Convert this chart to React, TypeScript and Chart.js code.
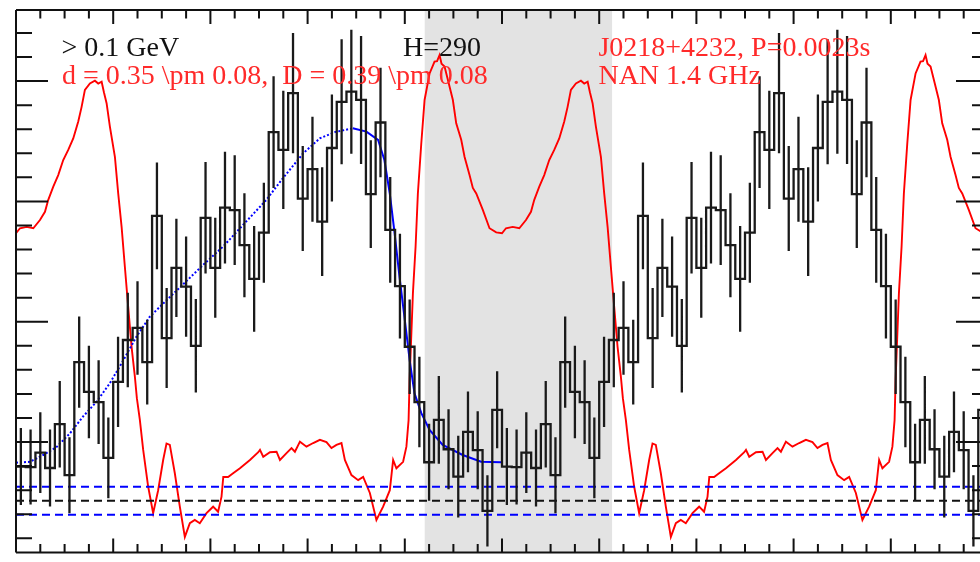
import React, { useEffect, useRef } from 'react';
import { Chart, registerables } from 'chart.js';

Chart.register(...registerables);

// ---------- data ----------
const BIN_WIDTH = 0.02; // phase width of one gamma-ray bin
const CYCLES = 2;

// gamma-ray counts per bin (one rotation, 50 bins) and their 1-sigma errors
const COUNTS = [
  19.9, 19.8, 22.8, 19.6, 28.7, 18.1, 41.6, 35.4, 33.3, 21.7,
  37.5, 46.2, 48.7, 41.6, 72.0, 46.6, 61.2, 57.3, 45.0, 71.6,
  61.2, 73.7, 73.2, 65.9, 58.9, 68.5, 89.4, 85.7, 97.5, 75.6,
  81.7, 70.8, 86.1, 95.7, 97.8, 96.1, 76.5, 91.4, 69.1, 57.4,
  44.8, 33.3, 20.8, 29.6, 23.5, 17.8, 27.1, 23.3, 10.7, 31.7,
];
const ERRORS = [
  8.0, 7.8, 8.4, 8.0, 9.0, 7.9, 9.5, 9.6, 8.7, 8.4,
  9.4, 9.8, 9.7, 8.8, 11.1, 10.4, 10.2, 10.4, 9.7, 11.6,
  10.4, 11.6, 11.4, 10.8, 11.0, 10.4, 11.6, 12.3, 12.5, 10.9,
  10.9, 11.3, 11.1, 13.0, 12.9, 13.3, 11.2, 11.4, 11.0, 10.9,
  9.8, 9.4, 8.0, 9.1, 8.3, 8.5, 8.4, 8.1, 7.4, 8.0,
];

// fitted pulse profile (blue)
const FIT_PHASE = [
  0.0, 0.029, 0.056, 0.084, 0.111, 0.138, 0.166, 0.193, 0.221, 0.248,
  0.275, 0.303, 0.337, 0.385, 0.426, 0.467, 0.515, 0.549, 0.591, 0.625,
  0.656, 0.693, 0.721, 0.745, 0.758, 0.769, 0.779, 0.789, 0.800, 0.810,
  0.820, 0.834, 0.851, 0.878, 0.919, 0.957, 0.998,
];
const FIT_VALUE = [
  20.7, 20.9, 22.3, 24.0, 26.8, 30.3, 33.4, 37.2, 42.0, 46.9,
  51.0, 53.8, 57.1, 61.8, 65.6, 70.1, 75.3, 79.8, 85.0, 88.1,
  89.4, 90.2, 89.5, 87.8, 83.6, 76.7, 68.4, 59.4, 50.4, 42.0,
  35.1, 31.0, 27.5, 24.4, 22.3, 20.9, 20.8,
];
const FIT_DOTTED_BELOW = 0.66;

// radio profile at 1.4 GHz (red), normalised flux, one rotation
const RADIO_PHASE = [
  0.0, 0.0082, 0.022, 0.0356, 0.0493, 0.0596, 0.0664, 0.0767, 0.0869, 0.0972,
  0.1075, 0.1178, 0.1281, 0.135, 0.1418, 0.1521, 0.1624, 0.1692, 0.1762, 0.1809,
  0.1864, 0.1932, 0.2035, 0.2103, 0.2173, 0.224, 0.2308, 0.2378, 0.2446, 0.2487,
  0.2549, 0.2617, 0.2719, 0.2822, 0.2925, 0.3028, 0.3097, 0.3165, 0.3268, 0.3371,
  0.3474, 0.3577, 0.3679, 0.3782, 0.392, 0.4056, 0.4158, 0.4229, 0.4265, 0.4364,
  0.4467, 0.4608, 0.4814, 0.4985, 0.502, 0.5087, 0.5225, 0.5361, 0.5431, 0.5566,
  0.5669, 0.5739, 0.5842, 0.5977, 0.6115, 0.6253, 0.6388, 0.6491, 0.6594, 0.6697,
  0.6767, 0.6902, 0.704, 0.7143, 0.7281, 0.7416, 0.7554, 0.7692, 0.776, 0.7827,
  0.7965, 0.8033, 0.8078, 0.8099, 0.813, 0.8167, 0.8222, 0.8269, 0.8339, 0.8407,
  0.851, 0.8612, 0.8664, 0.8715, 0.8756, 0.8818, 0.8886, 0.8989, 0.9058, 0.9161,
  0.9229, 0.9332, 0.94, 0.947, 0.9605, 0.9743, 0.9881,
];
const RADIO_FLUX = [
  0.661, 0.672, 0.675, 0.672, 0.69, 0.708, 0.734, 0.763, 0.788, 0.821,
  0.843, 0.868, 0.905, 0.937, 0.974, 0.988, 0.994, 0.988, 0.992, 0.969,
  0.945, 0.894, 0.828, 0.748, 0.675, 0.588, 0.501, 0.413, 0.348, 0.301,
  0.253, 0.188, 0.108, 0.05, 0.1, 0.166, 0.202, 0.199, 0.137, 0.064,
  -0.002, 0.028, 0.035, 0.028, 0.05, 0.064, 0.053, 0.086, 0.129, 0.129,
  0.137, 0.148, 0.166, 0.183, 0.188, 0.173, 0.183, 0.184, 0.166, 0.181,
  0.192, 0.184, 0.206, 0.195, 0.203, 0.21, 0.205, 0.192, 0.199, 0.203,
  0.166, 0.133, 0.122, 0.129, 0.094, 0.035, 0.064, 0.1, 0.166, 0.148,
  0.162, 0.195, 0.253, 0.341, 0.428, 0.53, 0.632, 0.748, 0.857, 0.952,
  1.01, 1.036, 1.037, 1.05, 1.031, 1.025, 0.996, 0.952, 0.901, 0.865,
  0.828, 0.788, 0.76, 0.748, 0.712, 0.672, 0.663,
];

const BACKGROUND = 12.8;
const BACKGROUND_SIGMA = 2.9;
const OFF_PULSE = [0.841, 1.2265];

const X_RANGE = [0, 2];
const Y_RANGE = [2.04, 114.78];
const Y2_RANGE = [-0.036, 1.1485];
const X_MINOR = 0.05;
const X_MAJOR_EVERY = 4;
const Y_MINOR = 5;
const Y_MAJOR = 25;

const LABELS = [
  { text: '> 0.1 GeV', x: 0.0935, y: 105.2, color: '#111111' },
  { text: 'd = 0.35 \\pm 0.08,  D = 0.39 \\pm 0.08', x: 0.0945, y: 99.5, color: '#ff2a2a' },
  { text: 'H=290', x: 0.7965, y: 105.2, color: '#111111' },
  { text: 'J0218+4232, P=0.0023s', x: 1.1984, y: 105.2, color: '#ff2a2a' },
  { text: 'NAN 1.4 GHz', x: 1.1984, y: 99.5, color: '#ff2a2a' },
];

// ---------- derived tables ----------
function buildHistogram() {
  const pts: { x: number; y: number }[] = [];
  const n = COUNTS.length;
  for (let c = 0; c < CYCLES; c++) {
    for (let i = 0; i < n; i++) pts.push({ x: (c * n + i) * BIN_WIDTH, y: COUNTS[i] });
  }
  pts.push({ x: CYCLES * n * BIN_WIDTH, y: COUNTS[n - 1] });
  return pts;
}

function buildErrorBars() {
  const pts: { x: number; y: number | null }[] = [];
  const n = COUNTS.length;
  for (let c = 0; c < CYCLES; c++) {
    for (let i = 0; i < n; i++) {
      const cx = (c * n + i + 0.5) * BIN_WIDTH;
      pts.push({ x: cx, y: COUNTS[i] - ERRORS[i] });
      pts.push({ x: cx, y: COUNTS[i] + ERRORS[i] });
      pts.push({ x: cx, y: null });
    }
  }
  return pts;
}

function buildRadio() {
  const pts: { x: number; y: number }[] = [];
  for (let c = 0; c < CYCLES; c++) {
    RADIO_PHASE.forEach((p, i) => pts.push({ x: p + c, y: RADIO_FLUX[i] }));
  }
  pts.push({ x: CYCLES, y: RADIO_FLUX[0] });
  return pts;
}

const hline = (v: number) => [
  { x: X_RANGE[0], y: v },
  { x: X_RANGE[1], y: v },
];

// ---------- plugins ----------
const shadePlugin = {
  id: 'offPulseShade',
  beforeDatasetsDraw(chart: any) {
    const { ctx, chartArea, scales } = chart;
    const x0 = scales.x.getPixelForValue(OFF_PULSE[0]);
    const x1 = scales.x.getPixelForValue(OFF_PULSE[1]);
    ctx.save();
    ctx.fillStyle = '#e3e3e3';
    ctx.fillRect(x0, chartArea.top, x1 - x0, chartArea.bottom - chartArea.top);
    ctx.restore();
  },
};

const framePlugin = {
  id: 'frameTicks',
  afterDatasetsDraw(chart: any) {
    const { ctx, chartArea, scales } = chart;
    const { left, right, top, bottom } = chartArea;
    ctx.save();
    ctx.strokeStyle = '#111111';
    ctx.lineWidth = 2;
    ctx.beginPath();
    ctx.moveTo(left, top);
    ctx.lineTo(right, top);
    ctx.moveTo(left, bottom);
    ctx.lineTo(right, bottom);
    ctx.moveTo(left, top);
    ctx.lineTo(left, bottom);
    ctx.moveTo(right, top);
    ctx.lineTo(right, bottom);
    const nx = Math.round((X_RANGE[1] - X_RANGE[0]) / X_MINOR);
    for (let k = 0; k <= nx; k++) {
      const px = scales.x.getPixelForValue(X_RANGE[0] + k * X_MINOR);
      const len = k % X_MAJOR_EVERY === 0 ? 14 : 8.5;
      ctx.moveTo(px, top);
      ctx.lineTo(px, top + len);
      ctx.moveTo(px, bottom);
      ctx.lineTo(px, bottom - len);
    }
    const y = scales.y;
    for (let v = Math.ceil(Y_RANGE[0] / Y_MINOR) * Y_MINOR; v <= Y_RANGE[1]; v += Y_MINOR) {
      const py = y.getPixelForValue(v);
      const len = v % Y_MAJOR === 0 ? 32 : 16;
      ctx.moveTo(left, py);
      ctx.lineTo(left + len, py);
      ctx.moveTo(right, py);
      ctx.lineTo(right - len, py);
    }
    ctx.stroke();
    ctx.restore();
  },
  afterDraw(chart: any) {
    const { ctx, scales } = chart;
    ctx.save();
    ctx.font = '28px "Liberation Serif", "DejaVu Serif", serif';
    ctx.textBaseline = 'alphabetic';
    ctx.textAlign = 'left';
    LABELS.forEach((l) => {
      ctx.fillStyle = l.color;
      ctx.fillText(l.text, scales.x.getPixelForValue(l.x), scales.y.getPixelForValue(l.y));
    });
    ctx.restore();
  },
};

export default function App() {
  const canvasRef = useRef<HTMLCanvasElement | null>(null);

  useEffect(() => {
    const canvas = canvasRef.current;
    if (!canvas) return;
    const line = { pointRadius: 0, tension: 0, fill: false };
    const chart = new Chart(canvas, {
      type: 'line',
      data: {
        datasets: [
          {
            ...line,
            label: 'counts',
            data: buildHistogram(),
            stepped: true,
            borderColor: '#1a1a1a',
            borderWidth: 2.3,
            order: 1,
          },
          {
            ...line,
            label: 'errors',
            data: buildErrorBars(),
            spanGaps: false,
            borderColor: '#1a1a1a',
            borderWidth: 2.3,
            order: 2,
          },
          {
            ...line,
            label: 'fit',
            data: FIT_PHASE.map((p, i) => ({ x: p, y: FIT_VALUE[i] })),
            borderColor: '#0000ff',
            borderWidth: 2,
            segment: {
              borderDash: (ctx: any) => (ctx.p0.parsed.x < FIT_DOTTED_BELOW ? [2, 2] : undefined),
            },
            order: 3,
          },
          {
            ...line,
            label: 'bg+',
            data: hline(BACKGROUND + BACKGROUND_SIGMA),
            borderColor: '#0000ff',
            borderWidth: 2,
            borderDash: [8, 5],
            order: 4,
          },
          {
            ...line,
            label: 'bg',
            data: hline(BACKGROUND),
            borderColor: '#111111',
            borderWidth: 2,
            borderDash: [8, 5],
            order: 4,
          },
          {
            ...line,
            label: 'bg-',
            data: hline(BACKGROUND - BACKGROUND_SIGMA),
            borderColor: '#0000ff',
            borderWidth: 2,
            borderDash: [8, 5],
            order: 4,
          },
          {
            ...line,
            label: 'radio',
            data: buildRadio(),
            yAxisID: 'y2',
            borderColor: '#ff0000',
            borderWidth: 1.9,
            order: 5,
          },
        ],
      },
      options: {
        animation: false,
        responsive: false,
        devicePixelRatio: 1,
        layout: { padding: { left: 16, top: 10, right: 12, bottom: 9.5 } },
        plugins: { legend: { display: false }, tooltip: { enabled: false } },
        events: [],
        scales: {
          x: { type: 'linear', min: X_RANGE[0], max: X_RANGE[1], display: false },
          y: { type: 'linear', min: Y_RANGE[0], max: Y_RANGE[1], display: false },
          y2: { type: 'linear', min: Y2_RANGE[0], max: Y2_RANGE[1], display: false },
        },
      } as any,
      plugins: [shadePlugin, framePlugin],
    } as any);
    return () => chart.destroy();
  }, []);

  return (
    <div
      style={{
        position: 'fixed',
        left: 0,
        top: 0,
        width: 980,
        height: 562,
        overflow: 'hidden',
        background: '#ffffff',
      }}
    >
      <canvas ref={canvasRef} width={1000} height={562} style={{ display: 'block' }} />
    </div>
  );
}
